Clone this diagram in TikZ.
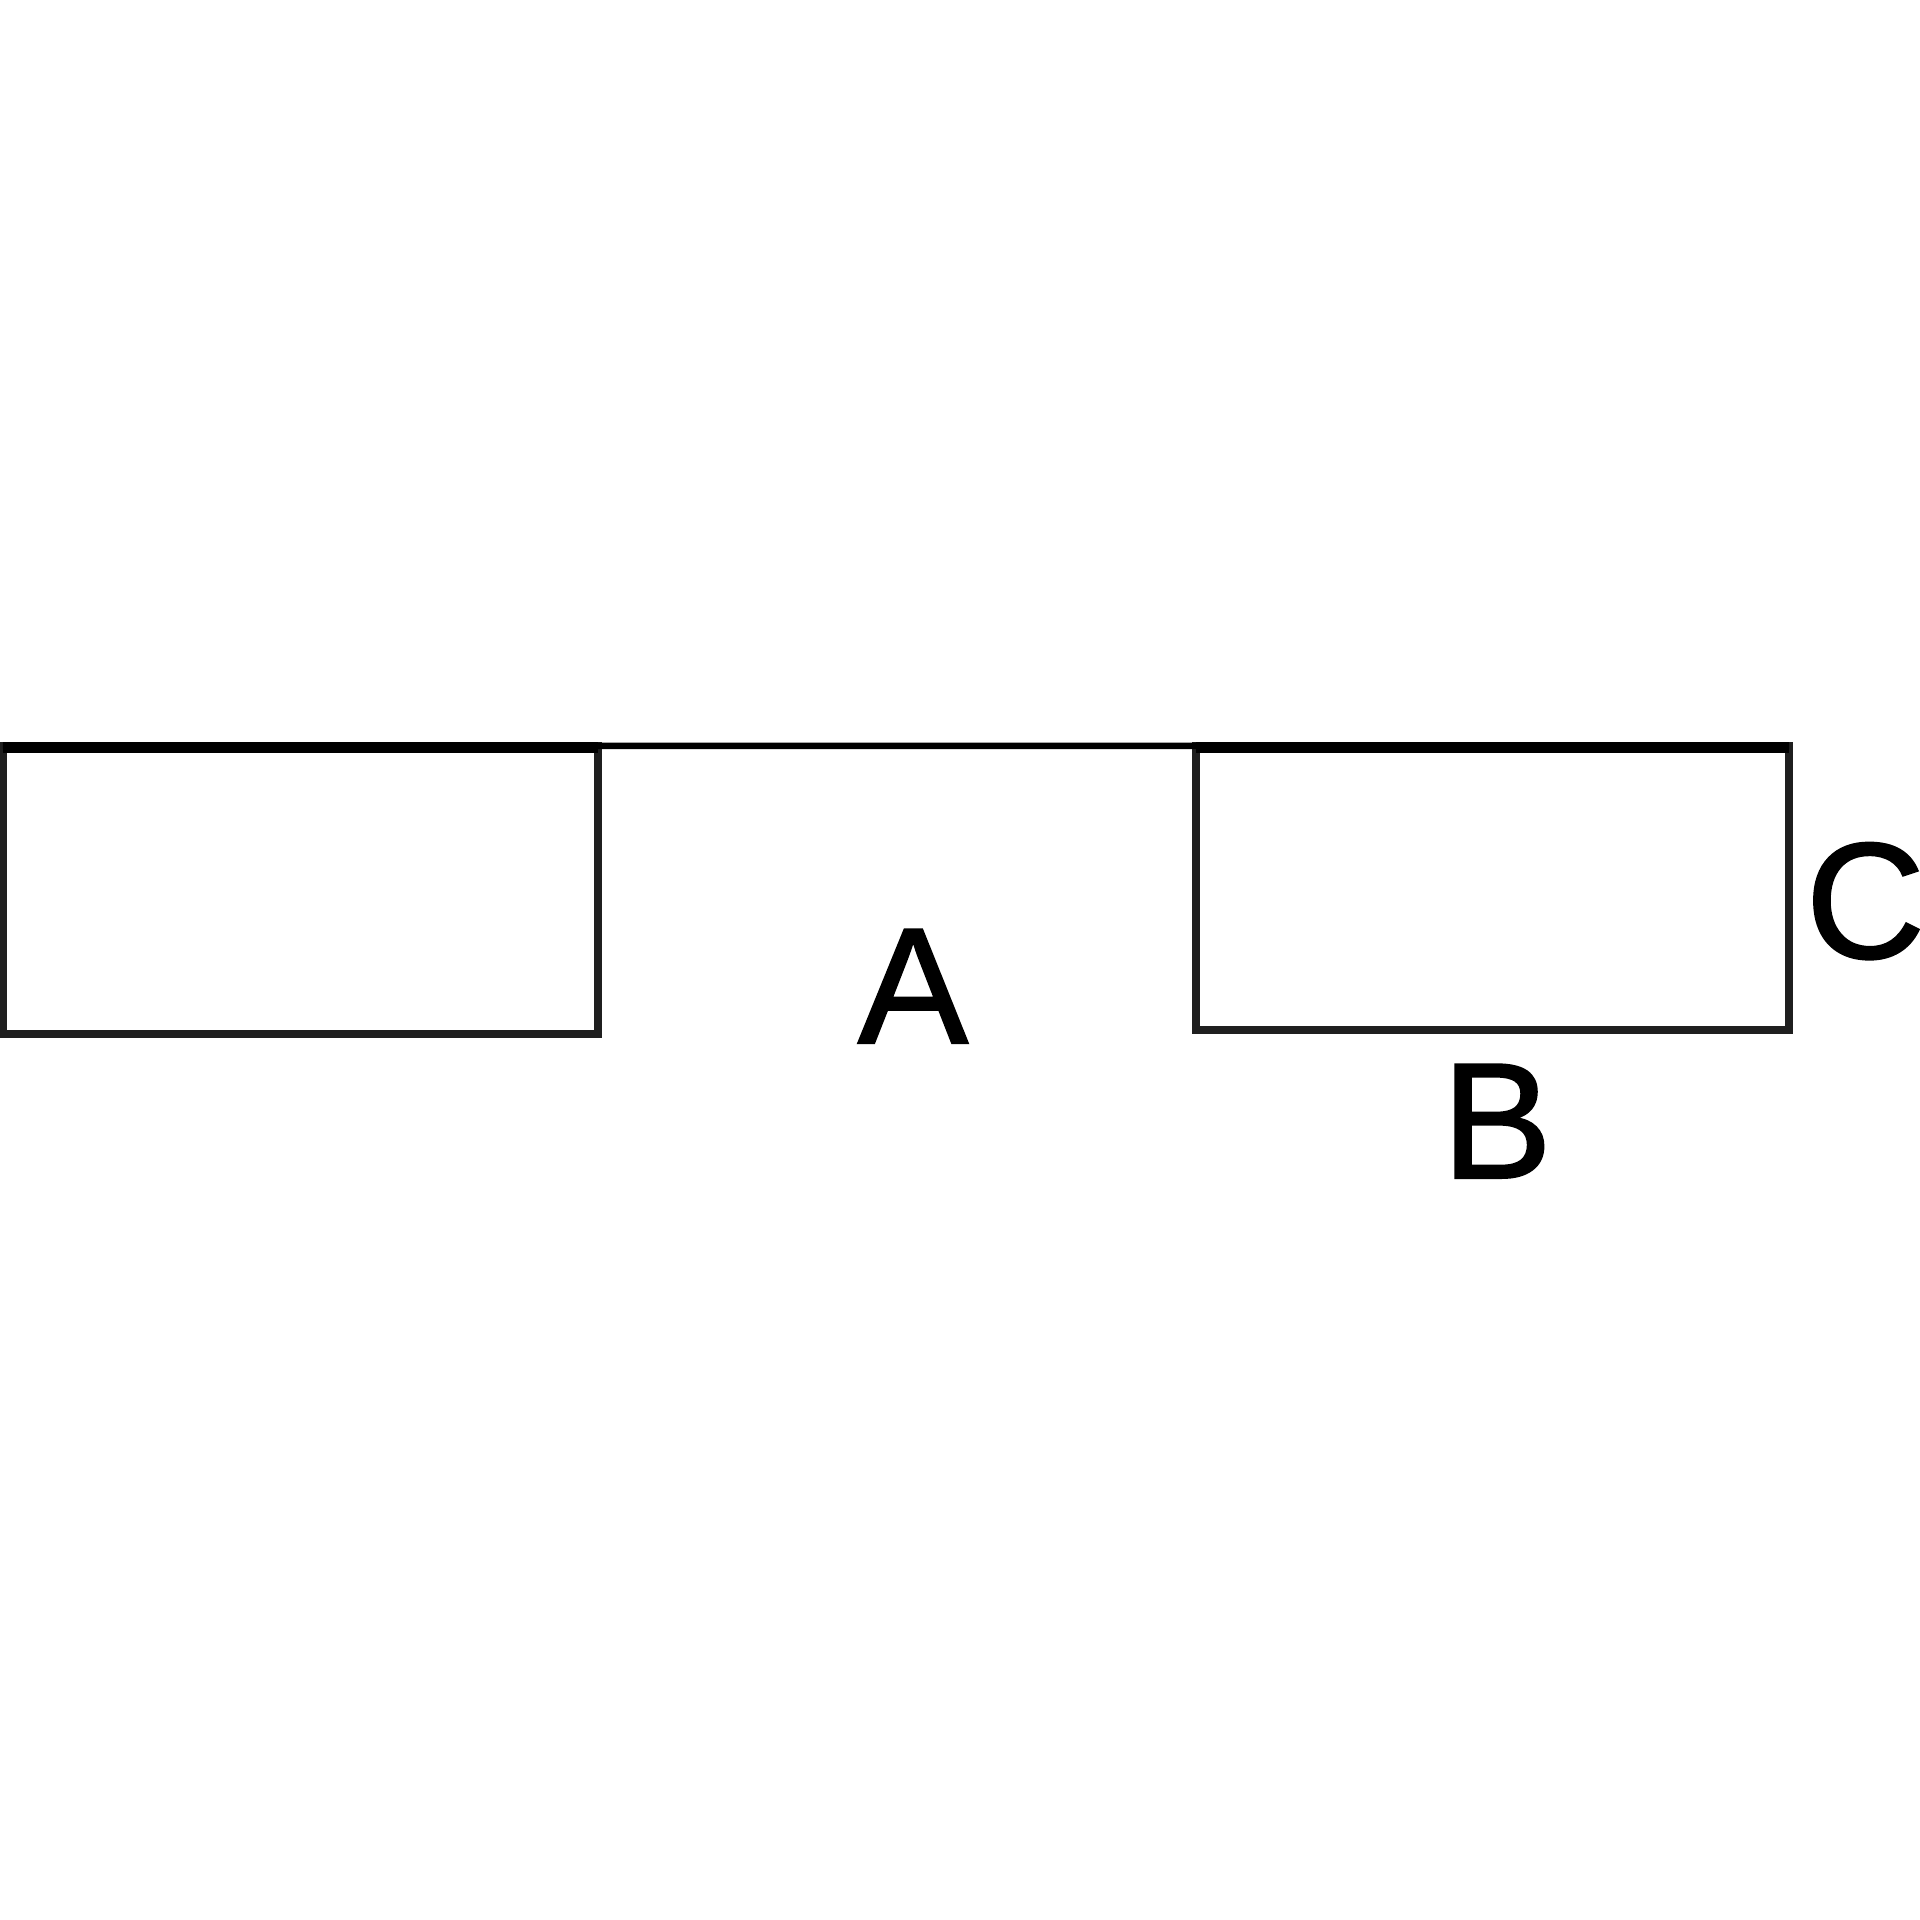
\documentclass[tikz,border=0pt]{standalone}
\usepackage{fontspec}
\setmainfont{Liberation Sans}
\newfontfamily\lblfont[FakeBold=1.2]{Liberation Sans}
\begin{document}
\begin{tikzpicture}[x=0.01cm,y=-0.01cm,
  boxst/.style={draw=black!88,line width=0.075cm,inner sep=0pt,outer sep=0pt},
  topband/.style={line width=0.11cm,black},
  lbl/.style={font=\lblfont\fontsize{47}{52}\selectfont,inner sep=0pt,anchor=base}]
\useasboundingbox (0,0) rectangle (1920,1920);
\node[boxst,minimum width=5.95cm,minimum height=2.88cm] (lbox) at (300.5,890) {};
\node[boxst,minimum width=5.93cm,minimum height=2.84cm] (rbox) at (1492.5,888) {};
\draw[line width=0.065cm,black] (lbox.north west) -- (rbox.north east);
\draw[topband] ([yshift=-0.015cm]lbox.north west) -- ([yshift=-0.015cm]lbox.north east);
\draw[topband] ([yshift=-0.015cm]rbox.north west) -- ([yshift=-0.015cm]rbox.north east);
\node[lbl] (A) at (913,1043) {A};
\node[lbl] (B) at (1497,1178) {B};
\node[lbl,anchor=base west] (C) at (1805,958) {C};
\end{tikzpicture}
\end{document}
